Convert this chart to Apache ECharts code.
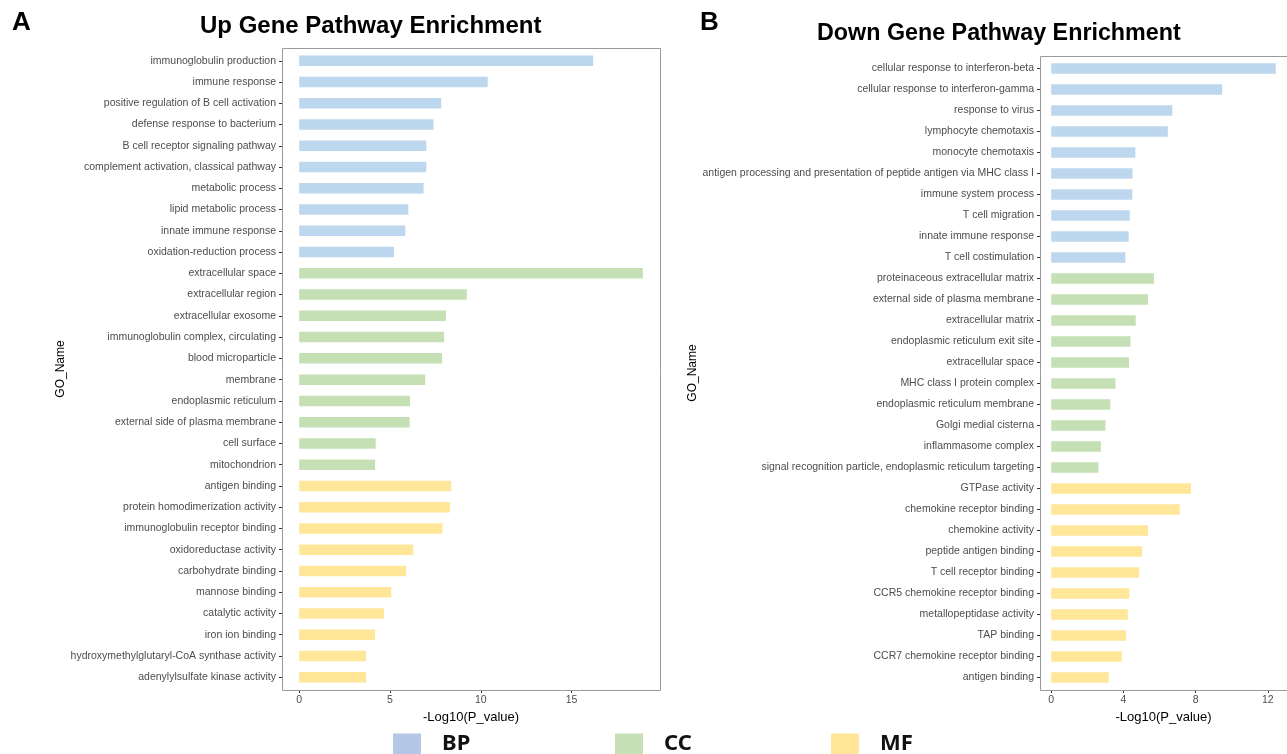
<!DOCTYPE html>
<html>
<head>
<meta charset="utf-8">
<script src="https://cdn.jsdelivr.net/npm/echarts@6/dist/echarts.min.js"></script>
<style>
  html, body { margin: 0; padding: 0; background: #fff; }
  #chart { width: 1287px; height: 754px; }
</style>
</head>
<body>
<div id="chart"></div>
<script>
// ---- Up-regulated genes: GO terms and -log10(p) ----
const upBPNames = ['immunoglobulin production', 'immune response', 'positive regulation of B cell activation',
  'defense response to bacterium', 'B cell receptor signaling pathway', 'complement activation, classical pathway',
  'metabolic process', 'lipid metabolic process', 'innate immune response', 'oxidation-reduction process'];
const upBPValues = [16.19, 10.38, 7.82, 7.40, 7.00, 7.00, 6.85, 6.01, 5.84, 5.22];

const upCCNames = ['extracellular space', 'extracellular region', 'extracellular exosome',
  'immunoglobulin complex, circulating', 'blood microparticle', 'membrane', 'endoplasmic reticulum',
  'external side of plasma membrane', 'cell surface', 'mitochondrion'];
const upCCValues = [18.92, 9.23, 8.08, 7.98, 7.87, 6.94, 6.10, 6.08, 4.21, 4.18];

const upMFNames = ['antigen binding', 'protein homodimerization activity', 'immunoglobulin receptor binding',
  'oxidoreductase activity', 'carbohydrate binding', 'mannose binding', 'catalytic activity',
  'iron ion binding', 'hydroxymethylglutaryl-CoA synthase activity', 'adenylylsulfate kinase activity'];
const upMFValues = [8.37, 8.30, 7.89, 6.28, 5.88, 5.07, 4.67, 4.18, 3.68, 3.68];

// ---- Down-regulated genes: GO terms and -log10(p) ----
const downBPNames = ['cellular response to interferon-beta', 'cellular response to interferon-gamma',
  'response to virus', 'lymphocyte chemotaxis', 'monocyte chemotaxis',
  'antigen processing and presentation of peptide antigen via MHC class I', 'immune system process',
  'T cell migration', 'innate immune response', 'T cell costimulation'];
const downBPValues = [12.44, 9.47, 6.71, 6.46, 4.66, 4.51, 4.49, 4.35, 4.29, 4.11];

const downCCNames = ['proteinaceous extracellular matrix', 'external side of plasma membrane',
  'extracellular matrix', 'endoplasmic reticulum exit site', 'extracellular space',
  'MHC class I protein complex', 'endoplasmic reticulum membrane', 'Golgi medial cisterna',
  'inflammasome complex', 'signal recognition particle, endoplasmic reticulum targeting'];
const downCCValues = [5.69, 5.36, 4.68, 4.39, 4.31, 3.56, 3.27, 3.01, 2.75, 2.61];

const downMFNames = ['GTPase activity', 'chemokine receptor binding', 'chemokine activity',
  'peptide antigen binding', 'T cell receptor binding', 'CCR5 chemokine receptor binding',
  'metallopeptidase activity', 'TAP binding', 'CCR7 chemokine receptor binding', 'antigen binding'];
const downMFValues = [7.74, 7.12, 5.36, 5.03, 4.87, 4.33, 4.24, 4.15, 3.91, 3.18];

const upTicks = [0, 5, 10, 15];
const downTicks = [0, 4, 8, 12];

const groupNames = ['BP', 'CC', 'MF'];
const barColors = { BP: '#BDD7EE', CC: '#C5E0B4', MF: '#FFE699' };
const legendColors = { BP: '#B4C7E7', CC: '#C5E0B4', MF: '#FFE699' };

const FONT = '"Liberation Sans", Arial, Helvetica, sans-serif';

// Panel frames (outer panel box); the category band sits inside with a 0.6-row margin top and bottom.
const panels = [
  { left: 282, top: 48, width: 378, height: 642 },
  { left: 1040, top: 56, width: 249, height: 634 }
];
const ROWS = 30, EXPAND = 0.6;
function innerGrid(p) {
  const band = p.height / (ROWS - 1 + 2 * EXPAND);
  const pad = (EXPAND - 0.5) * band;
  return { left: p.left, top: p.top + pad, width: p.width, height: p.height - 2 * pad, pad: pad };
}
const grids = panels.map(innerGrid);

// Build per-group series on one category axis: each group fills its own rows, others are empty.
function buildPanel(groups, axisIndex) {
  const categories = [].concat(...groups.map(g => g.names));
  let offset = 0;
  const series = groups.map((g, gi) => {
    const data = categories.map(() => '-');
    g.values.forEach((v, i) => { data[offset + i] = v; });
    offset += g.names.length;
    return {
      name: groupNames[gi],
      type: 'bar',
      stack: 'panel' + axisIndex,
      xAxisIndex: axisIndex,
      yAxisIndex: axisIndex,
      barWidth: 10.5,
      itemStyle: { color: barColors[groupNames[gi]] },
      emphasis: { disabled: true },
      data: data
    };
  });
  return { categories, series };
}

const up = buildPanel([
  { names: upBPNames, values: upBPValues },
  { names: upCCNames, values: upCCValues },
  { names: upMFNames, values: upMFValues }
], 0);
const down = buildPanel([
  { names: downBPNames, values: downBPValues },
  { names: downCCNames, values: downCCValues },
  { names: downMFNames, values: downMFValues }
], 1);

function valueRange(values) {
  const max = Math.max(...values);
  const pad = max * 0.05;
  return { min: -pad, max: max + pad };
}
const upRange = valueRange([...upBPValues, ...upCCValues, ...upMFValues]);
const downRange = valueRange([...downBPValues, ...downCCValues, ...downMFValues]);

function xAxisFor(gridIndex, range, ticks) {
  return {
    type: 'value',
    gridIndex: gridIndex,
    min: range.min,
    max: range.max,
    offset: grids[gridIndex].pad,
    name: '-Log10(P_value)',
    nameLocation: 'middle',
    nameGap: 15,
    nameTextStyle: { fontFamily: FONT, fontSize: 13, color: '#000' },
    axisLine: { show: false },
    axisTick: { show: true, length: 3, lineStyle: { color: '#333' }, customValues: ticks },
    axisLabel: { fontFamily: FONT, fontSize: 10.5, color: '#4d4d4d', margin: 5, customValues: ticks },
    splitLine: { show: false }
  };
}

function yAxisFor(gridIndex, categories, gap) {
  return {
    type: 'category',
    gridIndex: gridIndex,
    data: categories,
    inverse: true,
    name: 'GO_Name',
    nameLocation: 'middle',
    nameGap: gap,
    nameRotate: 90,
    nameTextStyle: { fontFamily: FONT, fontSize: 12, color: '#000' },
    axisLine: { show: false, onZero: false },
    axisTick: { show: true, length: 3, alignWithLabel: true, lineStyle: { color: '#333' } },
    axisLabel: { fontFamily: FONT, fontSize: 10.5, color: '#4d4d4d', margin: 6 },
    splitLine: { show: false }
  };
}

const legendText = { fontFamily: '"Noto Sans", "Open Sans", sans-serif', fontSize: 22, fontWeight: 'bold', color: '#111', lineHeight: 22, padding: [0, 0, 0, 16] };
function legendFor(name, left) {
  return {
    left: left, top: 728,
    itemWidth: 28, itemHeight: 21,
    icon: 'rect',
    selectedMode: false,
    data: [{ name: name, itemStyle: { color: legendColors[name] } }],
    textStyle: legendText
  };
}

const frames = panels.map(p => ({
  type: 'rect',
  silent: true,
  z: 10,
  shape: { x: p.left + 0.5, y: p.top + 0.5, width: p.width, height: p.height },
  style: { fill: 'none', stroke: '#9a9a9a', lineWidth: 1 }
}));

const chart = echarts.init(document.getElementById('chart'), null, { renderer: 'canvas' });
chart.setOption({
  backgroundColor: '#fff',
  animation: false,
  title: [
    { text: 'A', left: 7, top: 5, textStyle: { fontFamily: FONT, fontSize: 26, fontWeight: 'bold', color: '#000' } },
    { text: 'Up Gene Pathway Enrichment', left: 195, top: 9, textStyle: { fontFamily: FONT, fontSize: 24, fontWeight: 'bold', color: '#000' } },
    { text: 'B', left: 695, top: 5, textStyle: { fontFamily: FONT, fontSize: 26, fontWeight: 'bold', color: '#000' } },
    { text: 'Down Gene Pathway Enrichment', left: 812, top: 17, textStyle: { fontFamily: FONT, fontSize: 23.3, fontWeight: 'bold', color: '#000' } }
  ],
  legend: [legendFor('BP', 388), legendFor('CC', 610), legendFor('MF', 826)],
  grid: grids.map(g => ({ left: g.left, top: g.top, width: g.width, height: g.height, show: false })),
  xAxis: [xAxisFor(0, upRange, upTicks), xAxisFor(1, downRange, downTicks)],
  yAxis: [yAxisFor(0, up.categories, 211), yAxisFor(1, down.categories, 329)],
  graphic: frames,
  series: [...up.series, ...down.series]
});
</script>
</body>
</html>
